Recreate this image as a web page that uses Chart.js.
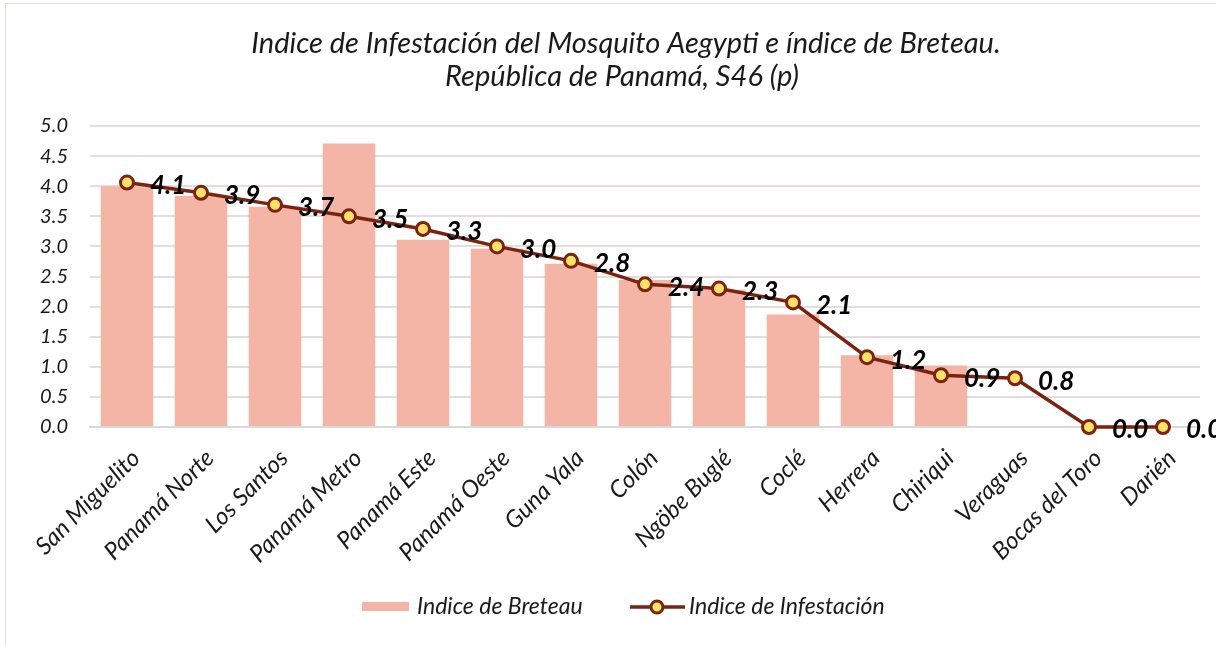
<!DOCTYPE html>
<html>
<head>
<meta charset="utf-8">
<script src="https://cdn.jsdelivr.net/npm/chart.js@4.4.1/dist/chart.umd.min.js"></script>
<style>
  html, body { margin: 0; padding: 0; background: #ffffff; }
  #wrap { position: relative; width: 1216px; height: 645px; overflow: hidden; }
  #frame { position: absolute; left: 5px; top: 3px; width: 1230px; height: 660px; border: 1.5px solid #e6dedb; box-sizing: border-box; }
  canvas { position: absolute; left: 0; top: 0; }
</style>
</head>
<body>
<div id="wrap">
  <div id="frame"></div>
  <canvas id="c" width="1216" height="645"></canvas>
</div>
<script>
const categories = ["San Miguelito", "Panamá Norte", "Los Santos", "Panamá Metro", "Panamá Este", "Panamá Oeste", "Guna Yala", "Colón", "Ngöbe Buglé", "Coclé", "Herrera", "Chiriqui", "Veraguas", "Bocas del Toro", "Darién"];
const breteau = [4.0, 3.84, 3.66, 4.71, 3.11, 2.96, 2.71, 2.44, 2.28, 1.87, 1.19, 1.02, 0, 0, 0];
const infestacion = [4.06, 3.89, 3.69, 3.5, 3.29, 3.0, 2.76, 2.37, 2.3, 2.07, 1.16, 0.86, 0.81, 0, 0];
const yTicks = [0, 0.5, 1, 1.5, 2, 2.5, 3, 3.5, 4, 4.5, 5];
const titleLines = ["Indice de Infestación del Mosquito Aegypti e índice de Breteau.", "República de Panamá, S46 (p)"];
const seriesNames = ["Indice de Breteau", "Indice de Infestación"];

const FONT = "Lato, 'Open Sans', 'Noto Sans', sans-serif";
const BAR_COLOR = "#f4b5a6";
const LINE_COLOR = "#7a2410";
const MARKER_FILL = "#ffe168";

const customDraw = {
  id: 'customDraw',
  afterDatasetsDraw(chart) {
    const ctx = chart.ctx;
    const meta = chart.getDatasetMeta(1);
    ctx.save();
    ctx.font = "italic bold 26px " + FONT;
    ctx.fillStyle = "#000000";
    ctx.textAlign = "left";
    ctx.textBaseline = "middle";
    meta.data.forEach((pt, i) => {
      ctx.fillText(infestacion[i].toFixed(1), pt.x + 23, pt.y + 3);
    });
    ctx.restore();
  },
  afterDraw(chart) {
    const ctx = chart.ctx;
    ctx.save();
    ctx.font = "italic 29px " + FONT;
    ctx.fillStyle = "#1a1a1a";
    ctx.textAlign = "center";
    ctx.textBaseline = "middle";
    ctx.fillText(titleLines[0], 626, 44);
    ctx.fillText(titleLines[1], 622, 77);
    const ly = 607;
    ctx.fillStyle = BAR_COLOR;
    ctx.fillRect(362, ly - 5, 47, 9);
    ctx.font = "italic 23px " + FONT;
    ctx.fillStyle = "#1a1a1a";
    ctx.textAlign = "left";
    ctx.fillText(seriesNames[0], 417, ly);
    ctx.strokeStyle = LINE_COLOR;
    ctx.lineWidth = 3.5;
    ctx.beginPath();
    ctx.moveTo(630, ly);
    ctx.lineTo(685, ly);
    ctx.stroke();
    ctx.beginPath();
    ctx.arc(657, ly, 6, 0, Math.PI * 2);
    ctx.fillStyle = MARKER_FILL;
    ctx.fill();
    ctx.lineWidth = 3;
    ctx.stroke();
    ctx.fillStyle = "#1a1a1a";
    ctx.fillText(seriesNames[1], 689, ly);
    ctx.restore();
  }
};

new Chart(document.getElementById('c'), {
  data: {
    labels: categories,
    datasets: [
      {
        type: 'bar',
        label: seriesNames[0],
        data: breteau,
        backgroundColor: BAR_COLOR,
        borderWidth: 0,
        categoryPercentage: 0.71,
        barPercentage: 1.0,
        order: 2
      },
      {
        type: 'line',
        label: seriesNames[1],
        data: infestacion,
        borderColor: LINE_COLOR,
        borderWidth: 3.5,
        pointRadius: 6.5,
        pointBorderWidth: 3,
        pointBackgroundColor: MARKER_FILL,
        pointBorderColor: LINE_COLOR,
        tension: 0,
        clip: false,
        order: 1
      }
    ]
  },
  options: {
    responsive: false,
    animation: false,
    devicePixelRatio: 1,
    layout: { padding: { top: 126, left: 0, right: 16, bottom: 0 } },
    plugins: {
      legend: { display: false },
      title: { display: false },
      tooltip: { enabled: false }
    },
    scales: {
      x: {
        offset: true,
        grid: { display: false, drawTicks: false },
        border: { display: true, color: "#d9d9d9", width: 2 },
        ticks: {
          font: { family: FONT, size: 24, style: 'italic' },
          color: "#1a1a1a",
          maxRotation: 45,
          minRotation: 45,
          autoSkip: false,
          padding: 17,
          labelOffset: 9
        },
        afterFit(scale) { scale.height = 218; }
      },
      y: {
        min: 0,
        max: 5,
        afterBuildTicks(scale) { scale.ticks = yTicks.map(v => ({ value: v })); },
        grid: { color: "#e3dedb", lineWidth: 2, drawTicks: false },
        border: { display: false },
        ticks: {
          font: { family: FONT, size: 20, style: 'italic' },
          color: "#1a1a1a",
          padding: 22,
          callback: (v) => Number(v).toFixed(1)
        },
        afterFit(scale) { scale.width = 90; }
      }
    }
  },
  plugins: [customDraw]
});
</script>
</body>
</html>
